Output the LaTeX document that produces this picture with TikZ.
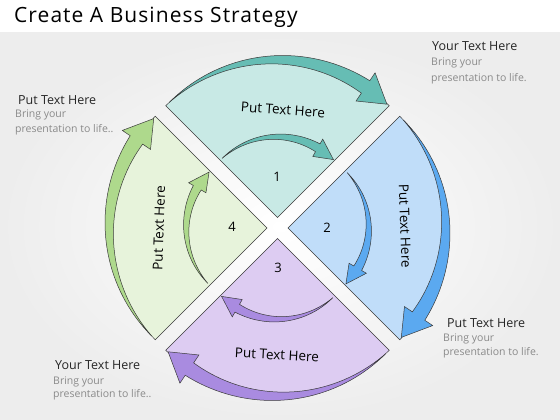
\documentclass[tikz,border=0pt]{standalone}
\usepackage{fontspec}
\setmainfont{Open Sans}
\definecolor{tealF}{HTML}{C8E9E5}
\definecolor{tealA}{HTML}{66BDB4}
\definecolor{blueF}{HTML}{C0DDF9}
\definecolor{blueA}{HTML}{5BA9F0}
\definecolor{purF}{HTML}{DDCCF2}
\definecolor{purA}{HTML}{A98BE0}
\definecolor{grnF}{HTML}{E7F3DB}
\definecolor{grnA}{HTML}{AED98C}
\definecolor{outl}{HTML}{3A3A3A}
\definecolor{subgray}{HTML}{8A8A8A}
\definecolor{bggray}{HTML}{EDEDED}
\tikzset{
  sector/.style={draw=outl, line width=0.5pt},
  lbl/.style={font=\fontsize{13.5}{15}\selectfont, text=black, inner sep=0},
  num/.style={font=\fontsize{13}{15}\selectfont, text=black, inner sep=0},
  headtxt/.style={anchor=west, font=\fontsize{12.5}{14}\selectfont, text=black!85, inner sep=0},
  subtxt/.style={anchor=west, font=\fontsize{10.5}{12}\selectfont, text=subgray, inner sep=0},
}
\newcommand{\sectorshape}[3]{%
  \pgfmathsetmacro\sA{#2+45}%
  \filldraw[sector, fill=#3] (#1) -- ++(\sA:158) arc[start angle=\sA, delta angle=-90, radius=158pt] -- cycle;}
\newcommand{\crarrow}[9]{%
  \pgfmathsetmacro\cS{#4}\pgfmathsetmacro\cB{#5}\pgfmathsetmacro\cE{#6}%
  \pgfmathsetmacro\cC{#3+(#7-#8)/2}%
  \fill[#2, draw=outl, line width=0.5pt, shift={(#1)}]
    plot[domain=\cS:\cB, samples=40, variable=\ang] (\ang:{#3+#7*(\ang-\cS)/(\cB-\cS)})
    -- (\cB:{\cC+#9}) -- (\cE:\cC) -- (\cB:{\cC-#9})
    -- plot[domain=\cB:\cS, samples=40, variable=\ang] (\ang:{#3-#8*(\ang-\cS)/(\cB-\cS)}) -- cycle;}
\newcommand{\quadrant}[4]{%
  \sectorshape{#1}{#2}{#3}%
  \crarrow{#1}{#4}{158}{#2+43}{#2-34}{#2-44}{7}{8}{17}%
  \crarrow{#1}{#4}{81}{#2+43}{#2-30}{#2-44}{4}{5}{10}}
\begin{document}
\begin{tikzpicture}[x=1pt,y=1pt]
\useasboundingbox (0,0) rectangle (560,420);
\fill[white] (0,0) rectangle (560,420);
\shade[inner color=white, outer color=bggray] (0,0) rectangle (560,387);
\node[anchor=west, inner sep=0, font=\fontsize{21}{24}\selectfont\addfontfeature{LetterSpace=5}] (title) at (14,403) {Create A Business Strategy};

\quadrant{277.5,202.5}{90}{tealF}{tealA}
\quadrant{288,192}{0}{blueF}{blueA}
\quadrant{277.5,181.5}{270}{purF}{purA}
\quadrant{267,192}{180}{grnF}{grnA}

\node[lbl, rotate=-4] (l1) at (283,310) {Put Text Here};
\node[lbl, rotate=-88] (l2) at (405,194) {Put Text Here};
\node[lbl, rotate=-3] (l3) at (277,65) {Put Text Here};
\node[lbl, rotate=88] (l4) at (159,192) {Put Text Here};
\node[num] (n1) at (277,243) {1};
\node[num] (n2) at (327,192) {2};
\node[num] (n3) at (278,152) {3};
\node[num] (n4) at (232,193) {4};

\node[headtxt] (trh) at (432,374) {Your Text Here};
\node[subtxt] (tr1) at (431,357) {Bring your};
\node[subtxt] (tr2) at (431,341) {presentation to life.};
\node[headtxt] (tlh) at (18,320) {Put Text Here};
\node[subtxt] (tl1) at (15,305) {Bring your};
\node[subtxt] (tl2) at (15,290) {presentation to life..};
\node[headtxt] (brh) at (447,97) {Put Text Here};
\node[subtxt] (br1) at (443,81) {Bring your};
\node[subtxt] (br2) at (443,67) {presentation to life.};
\node[headtxt] (blh) at (55,55) {Your Text Here};
\node[subtxt] (bl1) at (53,38) {Bring your};
\node[subtxt] (bl2) at (53,25) {presentation to life..};
\end{tikzpicture}
\end{document}
